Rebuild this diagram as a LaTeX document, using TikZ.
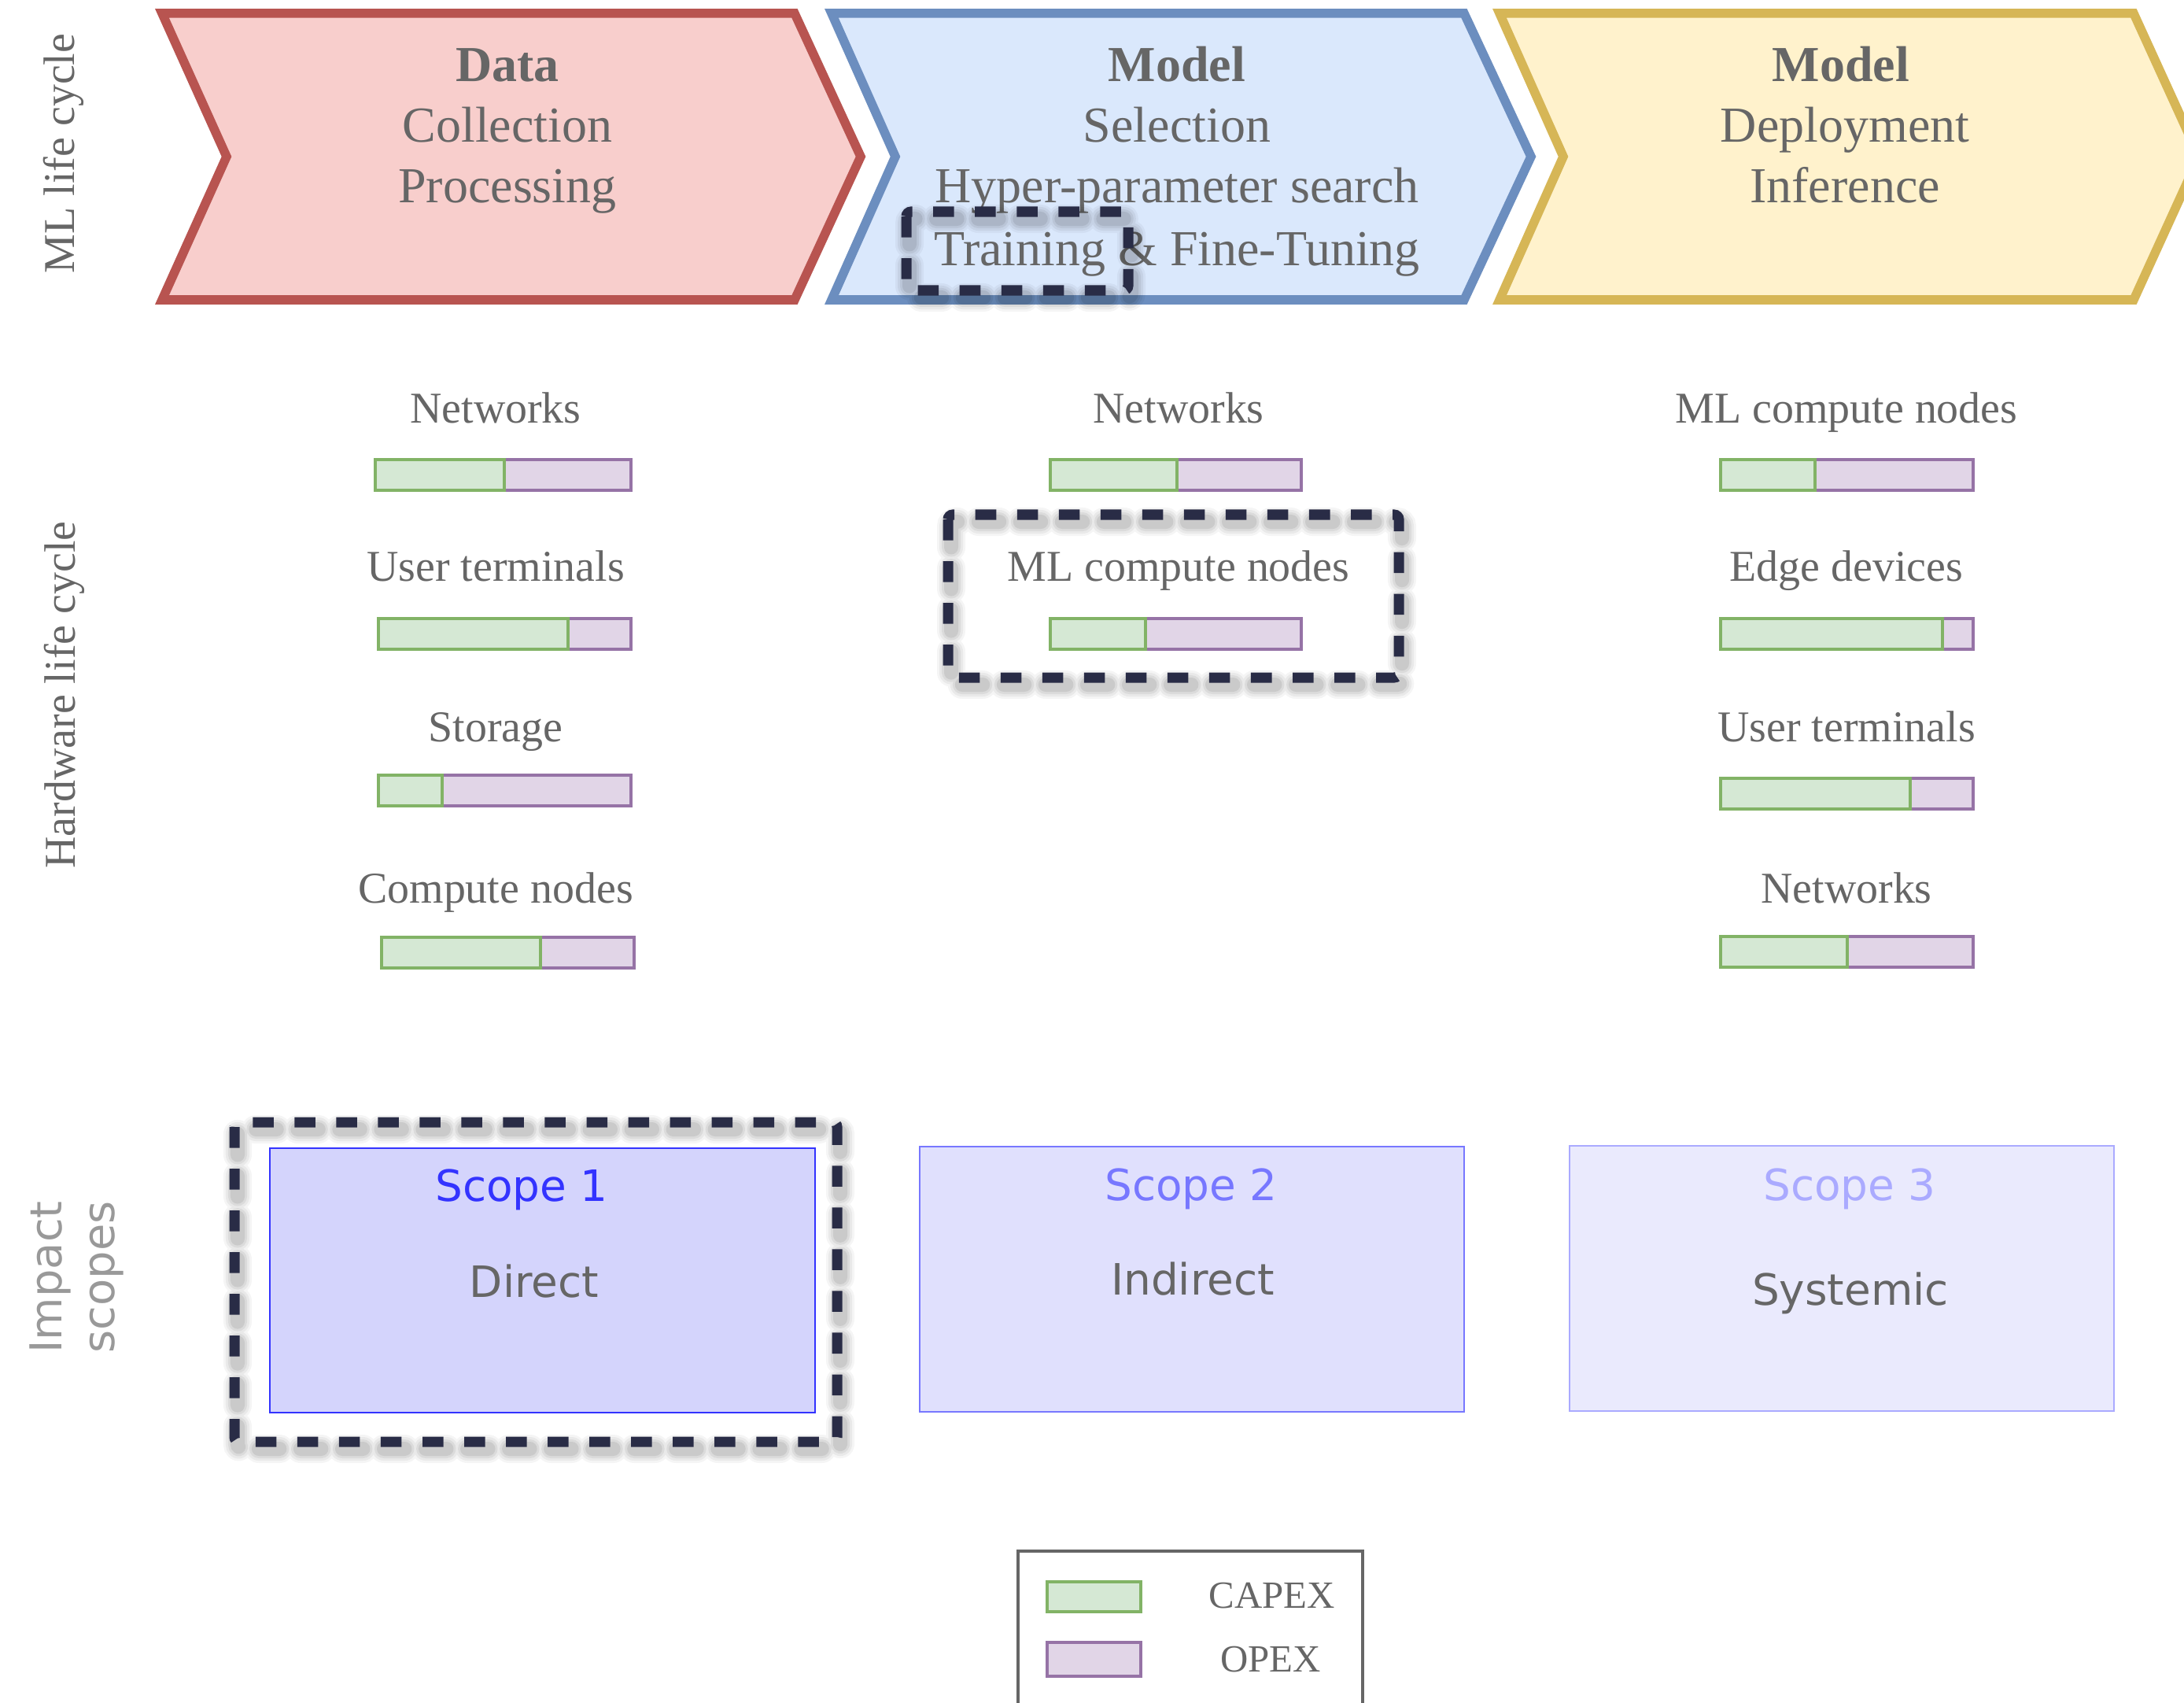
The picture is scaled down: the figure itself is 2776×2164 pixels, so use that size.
\documentclass[tikz,border=0pt]{standalone}
\usepackage{fontspec}
\setmainfont{Liberation Serif}
\newfontfamily\uisans{DejaVu Sans}

\definecolor{txt}{HTML}{666666}
\definecolor{redF}{HTML}{F8CECC}\definecolor{redD}{HTML}{B85450}
\definecolor{bluF}{HTML}{DAE8FC}\definecolor{bluD}{HTML}{6C8EBF}
\definecolor{yelF}{HTML}{FFF2CC}\definecolor{yelD}{HTML}{D6B656}
\definecolor{capF}{HTML}{D5E8D4}\definecolor{capD}{HTML}{82B366}
\definecolor{opxF}{HTML}{E1D5E7}\definecolor{opxD}{HTML}{9673A6}
\definecolor{hlc}{HTML}{292C46}
\definecolor{sAF}{HTML}{D4D4FC}\definecolor{sAD}{HTML}{3333FF}
\definecolor{sBF}{HTML}{E0E0FD}\definecolor{sBD}{HTML}{7777FF}
\definecolor{sCF}{HTML}{EAEAFD}\definecolor{sCD}{HTML}{AAAAFF}
\definecolor{sidegray}{HTML}{999999}

\tikzset{
  chev/.style={line width=0.115cm, line join=miter},
  chevtxt/.style={text=txt, font=\fontsize{18.2}{20}\selectfont, anchor=base, inner sep=0pt},
  chevhead/.style={chevtxt, font=\fontsize{18.2}{20}\selectfont\bfseries},
  hwtxt/.style={text=txt, font=\fontsize{15.9}{18}\selectfont, anchor=base, inner sep=0pt},
  sidetxt/.style={text=txt, font=\fontsize{15.9}{18}\selectfont, anchor=base, rotate=90, inner sep=0pt},
  impacttxt/.style={text=sidegray, font=\uisans\fontsize{15.9}{18}\selectfont, anchor=base, rotate=90, inner sep=0pt},
  scopetxt/.style={font=\uisans\fontsize{15.6}{18}\selectfont, anchor=base, inner sep=0pt},
  capbox/.style={draw=capD, fill=capF, line width=0.035cm},
  opxbox/.style={draw=opxD, fill=opxF, line width=0.035cm},
  scopebox/.style={line width=0.025cm},
  hlline/.style={draw=hlc, line width=0.13cm, dash pattern=on 0.265cm off 0.265cm, rounded corners=0.06cm},
  hlshade/.style={draw=black, line cap=round, dash pattern=on 0.265cm off 0.265cm, rounded corners=0.06cm},
}

% cost bar: left end, CAPEX/OPEX split, right end, top edge
\newcommand\costbar[4]{%
  \draw[opxbox] (#2,#4) rectangle (#3,#4+39);
  \draw[capbox] (#1,#4) rectangle (#2,#4+39);
}
% dashed highlight frame with a soft drop shadow
\newcommand\hlframe[2]{%
  \foreach \lw/\op in {0.36/0.04,0.30/0.05,0.24/0.06,0.18/0.08}{
    \draw[hlshade, line width=\lw cm, opacity=\op, shift={(4,9)}] #1 rectangle #2;
  }
  \draw[hlline] #1 rectangle #2;
}

\begin{document}
\begin{tikzpicture}[x=0.01cm, y=-0.01cm]
\useasboundingbox (0,0) rectangle (2776,2164);

% ---- ML life cycle chevrons ----
\draw[chev, fill=redF, draw=redD] (206,17) -- (1010,17) -- (1094,199) -- (1010,381) -- (206,381) -- (288,199) -- cycle;
\draw[chev, fill=bluF, draw=bluD] (1057,17) -- (1861,17) -- (1946,199) -- (1861,381) -- (1057,381) -- (1138,199) -- cycle;
\draw[chev, fill=yelF, draw=yelD] (1906,17) -- (2712,17) -- (2795,199) -- (2712,381) -- (1906,381) -- (1987,199) -- cycle;

\node[chevhead] (dataH) at (645,104) {Data};
\node[chevtxt] (dataA) at (645,181) {Collection};
\node[chevtxt] (dataB) at (645,258) {Processing};

\node[chevhead] (selH) at (1496,104) {Model};
\node[chevtxt] (selA) at (1496,181) {Selection};
\node[chevtxt] (selB) at (1496,258) {Hyper-parameter search};
\node[chevtxt] (selC) at (1496,338) {Training \& Fine-Tuning};

\node[chevhead] (depH) at (2340,104) {Model};
\node[chevtxt] (depA) at (2345,181) {Deployment};
\node[chevtxt] (depB) at (2345,258) {Inference};

\hlframe{(1152,269)}{(1434,369)}

% ---- row labels ----
\node[sidetxt] (mllc) at (94,195) {ML life cycle};
\node[sidetxt] (hwlc) at (95,883) {Hardware life cycle};
\node[impacttxt] (impA) at (78,1623) {Impact};
\node[impacttxt] (impB) at (145,1623) {scopes};

% ---- hardware: data stage ----
\node[hwtxt] (l1) at (630,537) {Networks};
\costbar{477}{641}{802}{584}
\node[hwtxt] (l2) at (630,738) {User terminals};
\costbar{481}{722}{802}{786}
\node[hwtxt] (l3) at (630,942) {Storage};
\costbar{481}{562}{802}{985}
\node[hwtxt] (l4) at (630,1147) {Compute nodes};
\costbar{485}{687}{806}{1191}

% ---- hardware: model stage ----
\node[hwtxt] (m1) at (1498,537) {Networks};
\costbar{1335}{1496}{1654}{584}
\node[hwtxt] (m2) at (1498,738) {ML compute nodes};
\costbar{1335}{1456}{1654}{786}
\hlframe{(1205,654)}{(1778,861)}

% ---- hardware: deployment stage ----
\node[hwtxt] (r1) at (2347,537) {ML compute nodes};
\costbar{2187}{2307}{2508}{584}
\node[hwtxt] (r2) at (2347,738) {Edge devices};
\costbar{2187}{2469}{2508}{786}
\node[hwtxt] (r3) at (2347,942) {User terminals};
\costbar{2187}{2428}{2508}{989}
\node[hwtxt] (r4) at (2347,1147) {Networks};
\costbar{2187}{2348}{2508}{1190}

% ---- impact scopes ----
\hlframe{(298,1426)}{(1064,1832)}
\draw[scopebox, draw=sAD, fill=sAF] (343,1459) rectangle (1036,1795);
\draw[scopebox, draw=sBD, fill=sBF] (1169,1457) rectangle (1861,1794);
\draw[scopebox, draw=sCD, fill=sCF] (1995,1456) rectangle (2687,1793);

\node[scopetxt, text=sAD] (s1t) at (663,1526) {Scope 1};
\node[scopetxt, text=txt] (s1d) at (679,1648) {Direct};
\node[scopetxt, text=sBD] (s2t) at (1514,1525) {Scope 2};
\node[scopetxt, text=txt] (s2d) at (1516,1645) {Indirect};
\node[scopetxt, text=sCD] (s3t) at (2351,1525) {Scope 3};
\node[scopetxt, text=txt] (s3d) at (2352,1658) {Systemic};

% ---- legend ----
\draw[draw=txt, line width=0.04cm] (1294,2200) -- (1294,1971) -- (1732,1971) -- (1732,2200);
\draw[capbox] (1331,2010) rectangle (1450,2048);
\draw[opxbox] (1331,2087) rectangle (1450,2130);
\node[hwtxt, font=\fontsize{13.9}{16}\selectfont] (capx) at (1617,2043) {CAPEX};
\node[hwtxt, font=\fontsize{13.9}{16}\selectfont] (opx) at (1615,2124) {OPEX};
\end{tikzpicture}
\end{document}
